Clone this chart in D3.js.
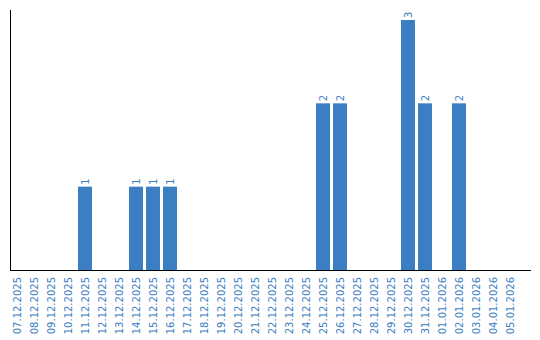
<!DOCTYPE html>
<html>
<head>
<meta charset="utf-8">
<script src="https://cdn.jsdelivr.net/npm/d3@7"></script>
<style>
  body { margin: 0; background: #fff; }
  svg text { font-family: "DejaVu Sans", Verdana, sans-serif; }
</style>
</head>
<body>
<svg id="chart"></svg>
<script>
var dates = ["07.12.2025", "08.12.2025", "09.12.2025", "10.12.2025", "11.12.2025",
             "12.12.2025", "13.12.2025", "14.12.2025", "15.12.2025", "16.12.2025",
             "17.12.2025", "18.12.2025", "19.12.2025", "20.12.2025", "21.12.2025",
             "22.12.2025", "23.12.2025", "24.12.2025", "25.12.2025", "26.12.2025",
             "27.12.2025", "28.12.2025", "29.12.2025", "30.12.2025", "31.12.2025",
             "01.01.2026", "02.01.2026", "03.01.2026", "04.01.2026", "05.01.2026"];
var counts = [0, 0, 0, 0, 1, 0, 0, 1, 1, 1, 0, 0, 0, 0, 0,
              0, 0, 0, 2, 2, 0, 0, 0, 3, 2, 0, 2, 0, 0, 0];

var dataset = dates.map((d, i) => ({ date: d, count: counts[i] }));

var dimensions = { width: 540, height: 340 };
var blue = "#3b7ec2";

var svg = d3.select("#chart")
            .attr("width", dimensions.width)
            .attr("height", dimensions.height);

var xScale = d3.scaleBand()
               .domain(dates)
               .range([8.5, 518.5])
               .paddingInner(3 / 17)
               .paddingOuter(1.5 / 17);

var yScale = d3.scaleLinear()
               .domain([0, 3])
               .range([270, 20]);

// bars
svg.append("g")
   .selectAll("rect")
   .data(dataset.filter(d => d.count > 0))
   .enter()
   .append("rect")
   .attr("x", d => xScale(d.date))
   .attr("y", d => yScale(d.count))
   .attr("width", xScale.bandwidth())
   .attr("height", d => yScale(0) - yScale(d.count))
   .attr("fill", blue);

// value labels
svg.append("g")
   .selectAll("text")
   .data(dataset.filter(d => d.count > 0))
   .enter()
   .append("text")
   .attr("transform", d => `translate(${xScale(d.date) + xScale.bandwidth() / 2},${yScale(d.count) - 2}) rotate(-90)`)
   .attr("dy", "0.35em")
   .style("font-size", "10px")
   .style("fill", blue)
   .text(d => d.count);

// axes lines
svg.append("line")
   .attr("x1", 10.5).attr("x2", 10.5)
   .attr("y1", 10).attr("y2", 270)
   .attr("stroke", "#000");

var xAxis = svg.append("g")
   .attr("transform", "translate(0,270)")
   .call(d3.axisBottom(xScale).tickSize(0).tickPadding(0));

xAxis.select(".domain")
     .attr("d", "M10,0.5H531");

xAxis.selectAll("text")
     .attr("transform", "rotate(-90)")
     .attr("x", -7)
     .attr("y", 0)
     .attr("dy", "0.35em")
     .style("text-anchor", "end")
     .style("font-size", "10px")
     .style("font-family", "'DejaVu Sans', Verdana, sans-serif")
     .style("fill", blue);
</script>
</body>
</html>
